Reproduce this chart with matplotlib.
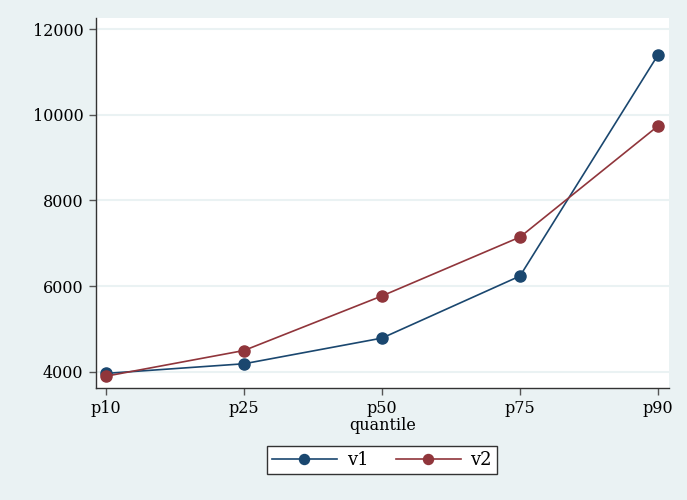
import matplotlib
matplotlib.use("Agg")
import matplotlib.pyplot as plt

# Data
quantiles = ["p10", "p25", "p50", "p75", "p90"]
v1 = [3960, 4185, 4785, 6235, 11400]
v2 = [3895, 4495, 5770, 7145, 9740]
y_ticks = [4000, 6000, 8000, 10000, 12000]

BG = "#eaf2f3"
C1 = "#1a476f"
C2 = "#90353b"

plt.rcParams["font.family"] = ["DejaVu Serif"]

fig = plt.figure(figsize=(6.87, 5.0), dpi=100, facecolor=BG)
ax = fig.add_axes([0.1397, 0.2246, 0.8341, 0.7394])
ax.set_facecolor("white")

x = list(range(len(quantiles)))
for ys in y_ticks:
    ax.axhline(ys, color=BG, lw=1.5, zorder=0)

ax.plot(x, v1, color=C1, lw=1.2, marker="o", ms=8, label="v1", zorder=3)
ax.plot(x, v2, color=C2, lw=1.2, marker="o", ms=8, label="v2", zorder=3)

ax.set_xlim(-0.0725, 4.08)
ax.set_ylim(3626, 12264)
ax.set_xticks(x)
ax.set_xticklabels(quantiles)
ax.set_yticks(y_ticks)
ax.set_xlabel("quantile", fontsize=11.5, labelpad=0)

for side in ("top", "right"):
    ax.spines[side].set_visible(False)
for side in ("left", "bottom"):
    ax.spines[side].set_color("#333333")
    ax.spines[side].set_linewidth(1.0)
ax.tick_params(axis="both", direction="out", length=5, width=1, color="#555555",
               labelsize=11.5, pad=4)

leg = fig.legend(loc="center", bbox_to_anchor=(382 / 687, 1 - 460 / 500), ncol=2,
                 frameon=True, fancybox=False, edgecolor="#333333", facecolor="white",
                 framealpha=1, fontsize=13, handlelength=3.6, handletextpad=0.55,
                 columnspacing=1.5, borderpad=0.3, markerscale=0.9)
leg.get_frame().set_linewidth(1.0)

fig.savefig("out.png", dpi=100, facecolor=BG)
